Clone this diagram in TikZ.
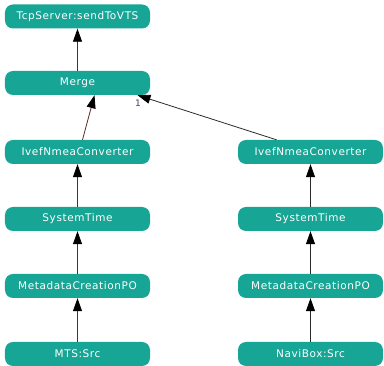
\documentclass[tikz,border=0pt]{standalone}
\usepackage{fontspec}
\setmainfont{DejaVu Sans}
\newfontfamily\boxfont[LetterSpace=5.5]{DejaVu Sans}
\usetikzlibrary{arrows.meta}
\definecolor{nodeteal}{HTML}{17A595}
\definecolor{edgebrown}{HTML}{5C2A22}
\definecolor{edgedark}{HTML}{2A2A2A}
\definecolor{labelpurple}{HTML}{4A3A6A}
\tikzset{
  box/.style={rectangle, rounded corners=8pt, fill=nodeteal, text=white,
    minimum width=145pt, minimum height=24pt, inner sep=0pt,
    font=\boxfont\fontsize{10.5pt}{12pt}\selectfont},
  flow/.style={line width=0.8pt},
  flowl/.style={flow, draw=edgebrown, arrows={-{Triangle[length=13pt,width=9pt,fill=black,color=black]}}},
  flowr/.style={flow, draw=edgedark, arrows={-{Triangle[length=13pt,width=9pt,fill=black,color=black]}}},
  lbl/.style={text=labelpurple, font=\fontsize{9pt}{10pt}\selectfont\rmfamily, inner sep=0pt}
}
\begin{document}
\begin{tikzpicture}[x=1pt,y=-1pt]
\useasboundingbox (0,0) rectangle (384,366);
\node[box] (tcp)  at (77.5,16.5) {TcpServer:sendToVTS};
\node[box] (merge) at (77.5,83) {Merge};
\node[box] (ivl) at (77.5,152) {IvefNmeaConverter};
\node[box] (stl) at (77.5,219) {SystemTime};
\node[box] (mdl) at (77.5,286) {MetadataCreationPO};
\node[box] (src1) at (77.5,354) {MTS:Src};
\node[box] (ivr) at (310.5,152) {IvefNmeaConverter};
\node[box] (str) at (310.5,219) {SystemTime};
\node[box] (mdr) at (310.5,286) {MetadataCreationPO};
\node[box] (src2) at (310.5,354) {NaviBox:Src};
\draw[flowl] (merge.north) -- (tcp.south);
\draw[flowl] ([xshift=5pt]ivl.north) -- ([xshift=17pt]merge.south);
\draw[flowl] (stl.north) -- (ivl.south);
\draw[flowl] (mdl.north) -- (stl.south);
\draw[flowl] (src1.north) -- (mdl.south);
\draw[flowr] ([xshift=-34pt]ivr.north) -- ([xshift=60pt]merge.south);
\draw[flowr] (str.north) -- (ivr.south);
\draw[flowr] (mdr.north) -- (str.south);
\draw[flowr] (src2.north) -- (mdr.south);
\node[lbl] (one) at (138,103) {1};
\end{tikzpicture}
\end{document}
